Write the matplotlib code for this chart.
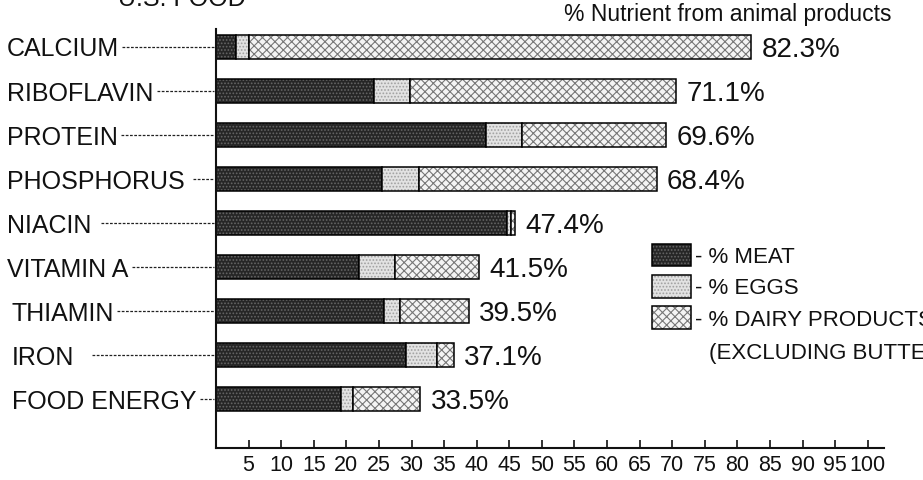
import matplotlib
matplotlib.use("Agg")
import matplotlib.pyplot as plt
from matplotlib.patches import Rectangle
from matplotlib.lines import Line2D

# ---------------- data ----------------
nutrients = ["CALCIUM", "RIBOFLAVIN", "PROTEIN", "PHOSPHORUS", "NIACIN",
             "VITAMIN A", "THIAMIN", "IRON", "FOOD ENERGY"]
total_labels = ["82.3%", "71.1%", "69.6%", "68.4%", "47.4%",
                "41.5%", "39.5%", "37.1%", "33.5%"]
meat = [3.0, 24.3, 41.5, 25.4, 44.7, 22.0, 25.8, 29.1, 19.2]
eggs = [2.1, 5.4, 5.5, 5.7, 0.6, 5.5, 2.4, 4.8, 1.8]
dairy = [77.0, 40.9, 22.1, 36.5, 0.6, 12.8, 10.6, 2.6, 10.3]
series_names = ["- % MEAT", "- % EGGS", "- % DAIRY PRODUCTS"]
legend_note = "(EXCLUDING BUTTER)"
x_ticks = [5, 10, 15, 20, 25, 30, 35, 40, 45, 50,
           55, 60, 65, 70, 75, 80, 85, 90, 95, 100]
title = "% Nutrient from animal products"
top_cut_text = "U.S. FOOD"

# ---------------- style ----------------
plt.rcParams['font.family'] = ['Liberation Sans', 'DejaVu Sans']
plt.rcParams['hatch.linewidth'] = 0.8

W, H = 923, 480
fig = plt.figure(figsize=(W / 100, H / 100), dpi=100)
fig.patch.set_facecolor('white')


def fx(px):
    return px / W


def fy(py):
    return 1 - py / H


AX_L, AX_R, AX_T, AX_B = 216, 884, 29, 448
ax = fig.add_axes([fx(AX_L), fy(AX_B), (AX_R - AX_L) / W, (AX_B - AX_T) / H])

styles = [dict(face='#262626', hatch='.....', hcolor='#666666'),
          dict(face='#e2e2e2', hatch='.....', hcolor='#a0a0a0'),
          dict(face='#f4f4f4', hatch='xxxx', hcolor='#777777')]

y = list(range(len(nutrients)))
bar_h = 0.55
left = [0.0] * len(nutrients)
for vals, st in zip([meat, eggs, dairy], styles):
    ax.barh(y, vals, left=left, height=bar_h, color=st['face'],
            edgecolor=st['hcolor'], hatch=st['hatch'], linewidth=0)
    ax.barh(y, vals, left=left, height=bar_h, fill=False,
            edgecolor='black', linewidth=1.1)
    left = [l + v for l, v in zip(left, vals)]

for yi, end, lab in zip(y, left, total_labels):
    ax.annotate(lab, xy=(end, yi), xytext=(7.5, -7.2),
                textcoords='offset points', va='baseline', ha='left',
                fontsize=20, color='#111111')

ax.set_xlim(0, 102.5)
ax.set_ylim(len(nutrients) - 1 + 1.11, -0.41)
for s in ['top', 'right']:
    ax.spines[s].set_visible(False)
for s in ['left', 'bottom']:
    ax.spines[s].set_linewidth(1.5)
    ax.spines[s].set_color('#111111')
ax.set_yticks([])
ax.set_xticks(x_ticks)
ax.set_xticklabels([str(t) for t in x_ticks])
ax.tick_params(axis='x', direction='in', length=6, width=1.2, pad=5,
               labelsize=15.5, colors='#111111')
ax.patch.set_alpha(0)

# category labels with leader lines
label_x = [7, 7, 7, 7, 7, 7, 12, 12, 12]
leader_gap = [3, 4, 3, 8, 10, 4, 3, 18, 3]
texts = []
for yi, name, lx in zip(y, nutrients, label_x):
    t = ax.annotate(name, xy=(fx(lx), yi), xycoords=('figure fraction', 'data'),
                    xytext=(0, -6.8), textcoords='offset points',
                    va='baseline', ha='left', fontsize=18, color='#111111',
                    annotation_clip=False)
    texts.append(t)

fig.canvas.draw()
renderer = fig.canvas.get_renderer()
for yi, t, gap in zip(y, texts, leader_gap):
    bb = t.get_window_extent(renderer)
    yd = ax.transData.transform((0, yi))[1]
    fig.add_artist(Line2D([(bb.x1 + gap) / W, (AX_L - 2) / W], [yd / H, yd / H],
                          transform=fig.transFigure, color='#222222',
                          linewidth=0.9, linestyle=(0, (2.2, 1.2))))

# title and cut-off heading
fig.text(fx(892), fy(21), title, ha='right', va='baseline', fontsize=16.5,
         color='#111111')
fig.text(fx(118), fy(6), top_cut_text, ha='left', va='baseline', fontsize=18,
         color='#111111')

# legend (manual)
leg_rows = [(244, 266), (275, 298), (306, 329)]
for (t0, t1), st, name in zip(leg_rows, styles, series_names):
    r = Rectangle((fx(652), fy(t1)), 39 / W, (t1 - t0) / H, transform=fig.transFigure,
                  facecolor=st['face'], edgecolor=st['hcolor'], hatch=st['hatch'],
                  linewidth=0)
    fig.add_artist(r)
    r2 = Rectangle((fx(652), fy(t1)), 39 / W, (t1 - t0) / H, transform=fig.transFigure,
                   fill=False, edgecolor='black', linewidth=1.1)
    fig.add_artist(r2)
    fig.text(fx(695), fy((t0 + t1) / 2 + 8), name, ha='left', va='baseline',
             fontsize=16, color='#111111')
fig.text(fx(709), fy(359), legend_note, ha='left', va='baseline',
         fontsize=16, color='#111111')

fig.savefig("out.png", dpi=100)
